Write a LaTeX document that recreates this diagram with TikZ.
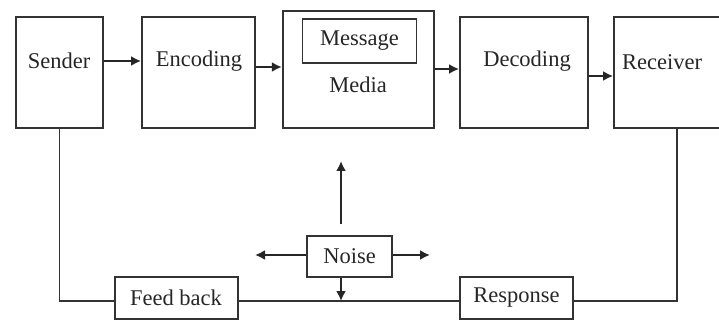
\documentclass[tikz,border=0pt]{standalone}
\usepackage{fontspec}
\setmainfont{Liberation Serif}
\usetikzlibrary{arrows.meta}
\tikzset{
  box/.style={draw=black!80, line width=1.8pt, inner sep=0pt},
  lbl/.style={inner sep=0pt, text=black!85, font=\fontsize{22.5}{26}\selectfont},
  arr/.style={draw=black!85, line width=2.2pt, -{Latex[length=10pt,width=10pt]}},
  conn/.style={draw=black!80, line width=1.5pt},
}
\begin{document}
\begin{tikzpicture}[x=1pt,y=-1pt]
\useasboundingbox[fill=white] (0,0) rectangle (719,320);
% top row boxes
\node[box, minimum width=87pt, minimum height=111pt] (sender) at (59.5,72.5) {};
\node[lbl] (sendert) at (59,61) {Sender};
\node[box, minimum width=113pt, minimum height=111pt] (enc) at (198.5,72.5) {};
\node[lbl] (enct) at (199,61) {Encoding};
\node[box, line width=2.3pt, minimum width=151pt, minimum height=117pt] (media) at (358.5,69.5) {};
\node[box, minimum width=114pt, minimum height=44pt] (msg) at (359.5,41) {};
\node[lbl] (msgt) at (359.5,41) {Message};
\node[lbl] (mediat) at (358,85) {Media};
\node[box, minimum width=128pt, minimum height=111pt] (dec) at (524,72.5) {};
\node[lbl] (dect) at (527,61) {Decoding};
\node[box, minimum width=111pt, minimum height=111pt] (rec) at (669.5,72.5) {};
\node[lbl] (rect) at (662,62) {Receiver};
% bottom boxes
\node[box, line width=1.5pt, minimum width=85pt, minimum height=41pt] (noise) at (349.5,256.5) {};
\node[lbl] (noiset) at (349.5,256) {Noise};
\node[box, line width=1.5pt, minimum width=123pt, minimum height=42pt] (fb) at (176.5,298) {};
\node[lbl] (fbt) at (176,298) {Feed back};
\node[box, line width=1.5pt, minimum width=113pt, minimum height=42pt] (resp) at (516.5,298) {};
\node[lbl] (respt) at (516.5,298) {Response};
% top arrows
\draw[arr] ([yshift=11.5pt]sender.east) -- ([yshift=11.5pt]enc.west);
\draw[arr] ([yshift=5.5pt]enc.east) -- ([yshift=2.5pt]media.west);
\draw[arr] ([yshift=0.5pt]media.east) -- ([yshift=3.5pt]dec.west);
\draw[arr] ([yshift=-3.5pt]dec.east) -- ([yshift=-3.5pt]rec.west);
% feedback loop
\draw[conn] (sender.south) |- ([yshift=-3pt]fb.west);
\draw[conn] ([yshift=-3pt]fb.east) -- ([yshift=-3pt]resp.west);
\draw[conn] ([yshift=-3pt]resp.east) -| ([xshift=7.5pt]rec.south);
% noise arrows
\coordinate (nup) at (341,161);
\coordinate (nleft) at (255,255);
\coordinate (nright) at (430,255);
\coordinate (ndown) at (341,301);
\draw[arr] ([xshift=-8.5pt,yshift=11pt]noise.north) -- (nup);
\draw[arr] ([yshift=1.5pt]noise.west) -- (nleft);
\draw[arr] ([yshift=1.5pt]noise.east) -- (nright);
\draw[arr] ([xshift=-8.5pt]noise.south) -- (ndown);
\end{tikzpicture}
\end{document}
